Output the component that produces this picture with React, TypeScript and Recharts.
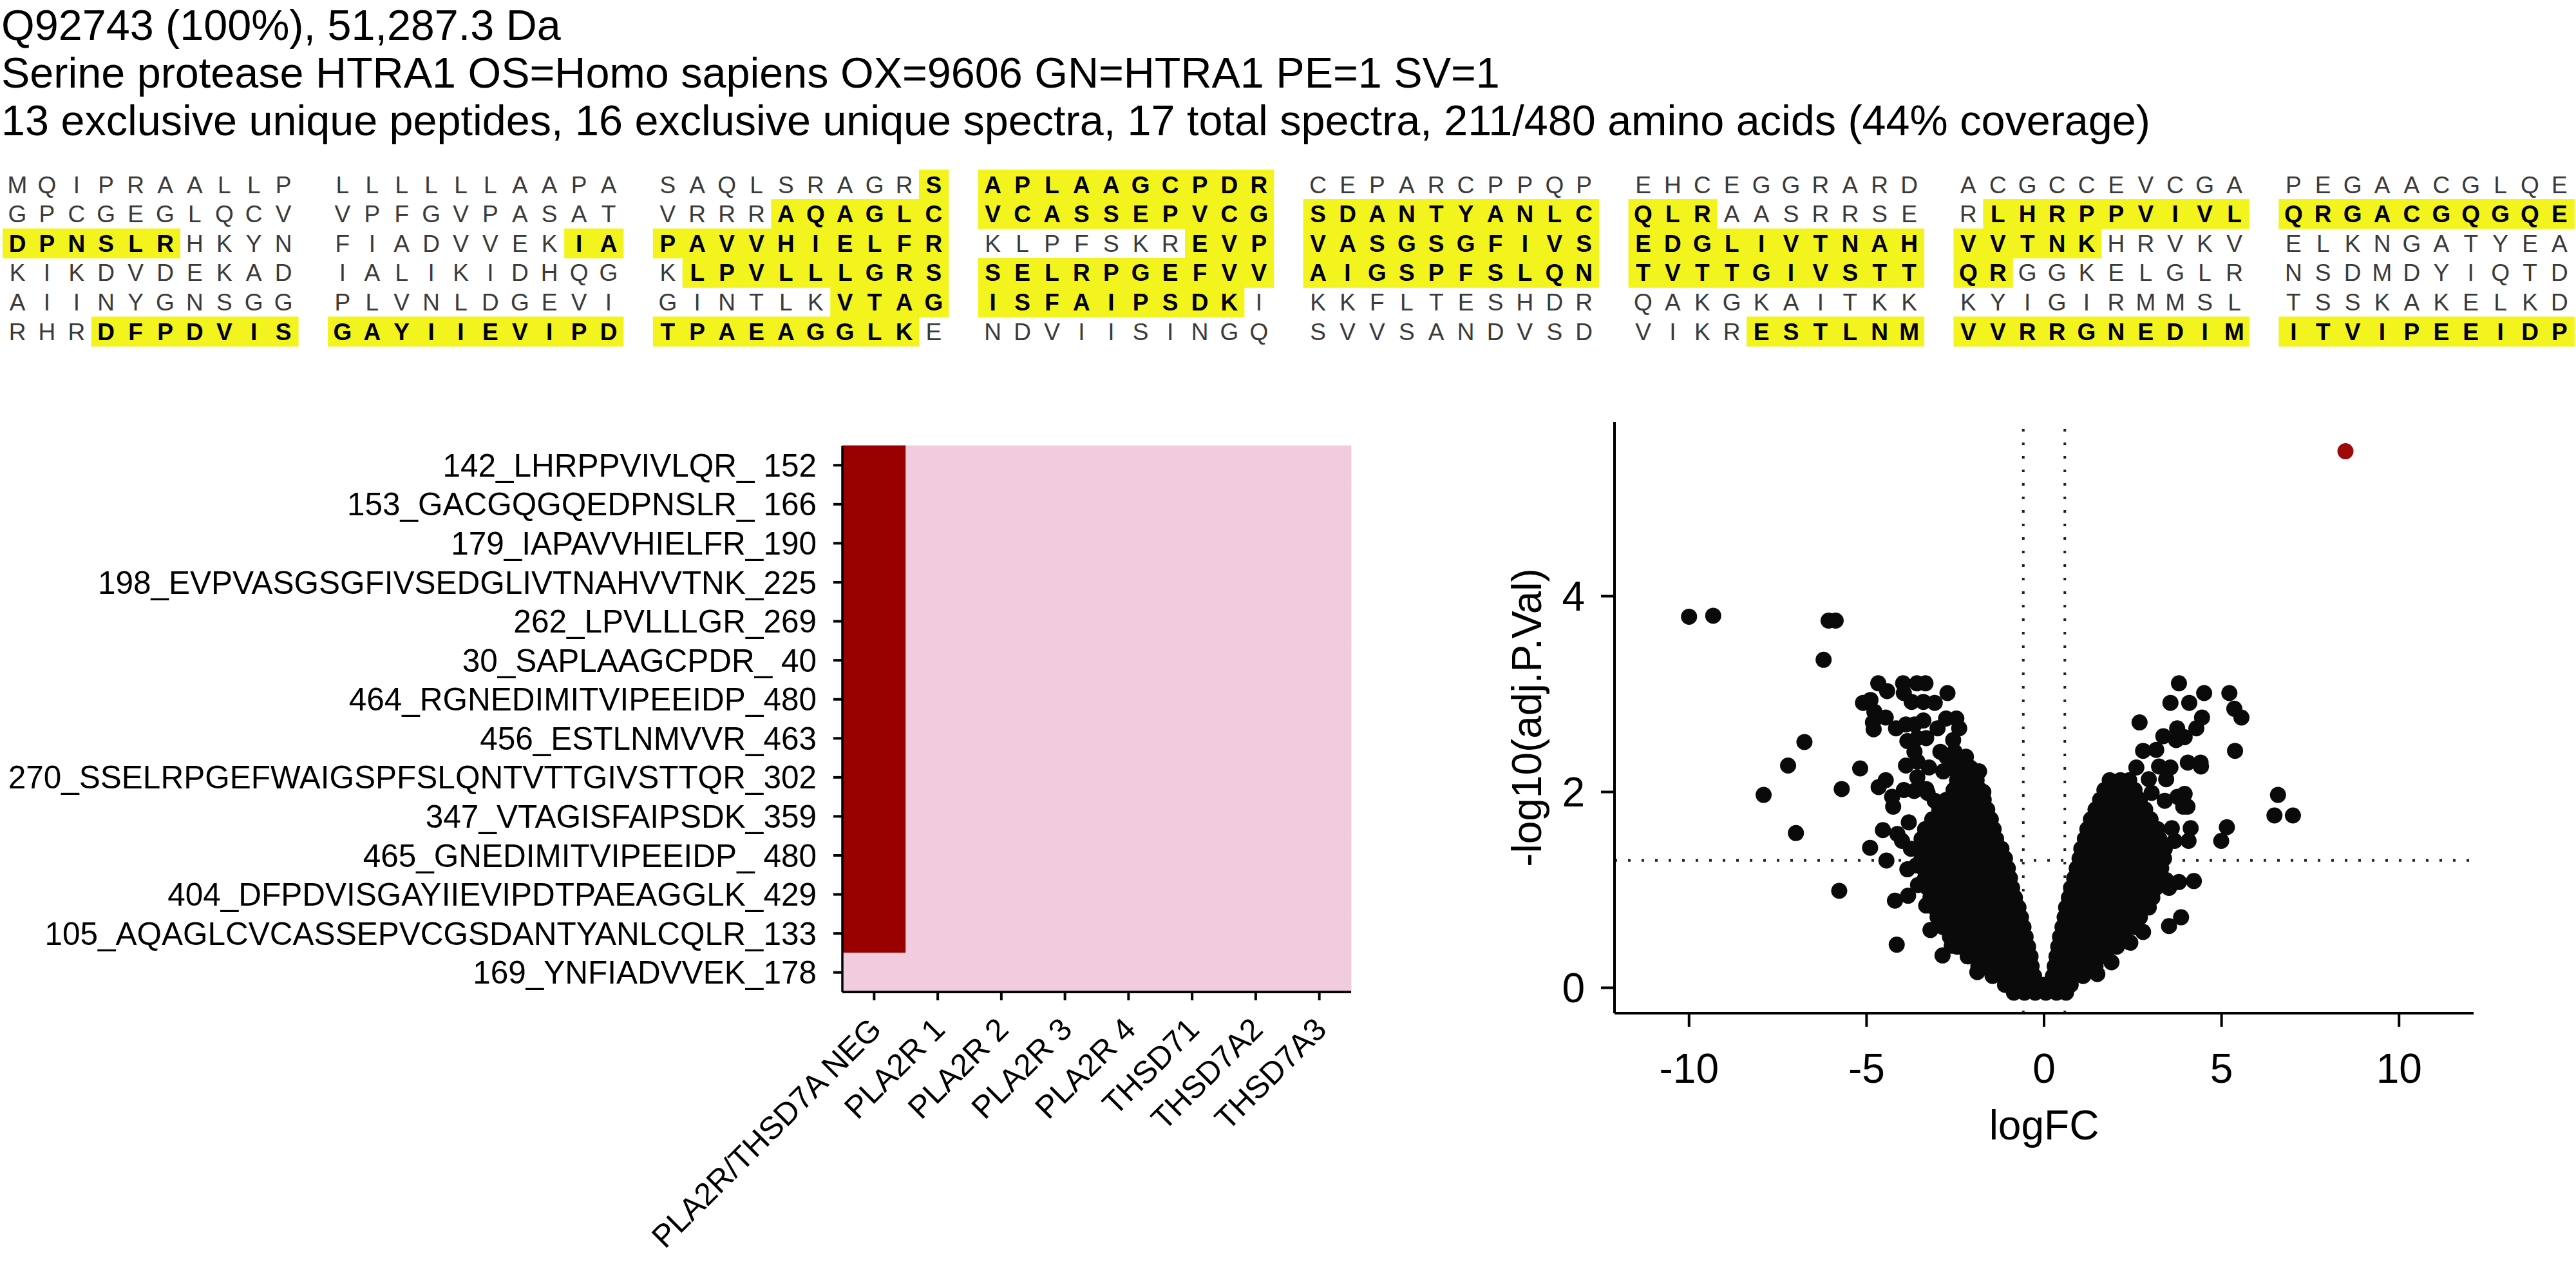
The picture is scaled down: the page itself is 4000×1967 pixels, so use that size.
// Coverage map, peptide detection heatmap and volcano plot for HTRA1 (Q92743)

import React from "react";
import {
  Bar,
  BarChart,
  Cell,
  ReferenceLine,
  Scatter,
  ScatterChart,
  XAxis,
  YAxis,
} from "recharts";

const FONT = '"Liberation Sans", Arial, Helvetica, sans-serif';
const RED = "#990000";
const PINK = "#F1CCDE";
const YELLOW = "#F3F31D";

const headerLines = [
  "Q92743 (100%), 51,287.3 Da",
  "Serine protease HTRA1 OS=Homo sapiens OX=9606 GN=HTRA1 PE=1 SV=1",
  "13 exclusive unique peptides, 16 exclusive unique spectra, 17 total spectra, 211/480 amino acids (44% coverage)",
];

const sequenceBlocks = [
  "MQIPRAALLP", "LLLLLLAAPA", "SAQLSRAGRS", "APLAAGCPDR", "CEPARCPPQP", "EHCEGGRARD", "ACGCCEVCGA", "PEGAACGLQE",
  "GPCGEGLQCV", "VPFGVPASAT", "VRRRAQAGLC", "VCASSEPVCG", "SDANTYANLC", "QLRAASRRSE", "RLHRPPVIVL", "QRGACGQGQE",
  "DPNSLRHKYN", "FIADVVEKIA", "PAVVHIELFR", "KLPFSKREVP", "VASGSGFIVS", "EDGLIVTNAH", "VVTNKHRVKV", "ELKNGATYEA",
  "KIKDVDEKAD", "IALIKIDHQG", "KLPVLLLGRS", "SELRPGEFVV", "AIGSPFSLQN", "TVTTGIVSTT", "QRGGKELGLR", "NSDMDYIQTD",
  "AIINYGNSGG", "PLVNLDGEVI", "GINTLKVTAG", "ISFAIPSDKI", "KKFLTESHDR", "QAKGKAITKK", "KYIGIRMMSL", "TSSKAKELKD",
  "RHRDFPDVIS", "GAYIIEVIPD", "TPAEAGGLKE", "NDVIISINGQ", "SVVSANDVSD", "VIKRESTLNM", "VVRRGNEDIM", "ITVIPEEIDP",
];

// covered residue ranges (1-based, inclusive)
const coveredRanges: [number, number][] = [
  [30, 40], [105, 133], [142, 166], [179, 190], [198, 225],
  [262, 302], [347, 359], [404, 429], [455, 480],
];

const peptides = [
  "142_LHRPPVIVLQR_ 152",
  "153_GACGQGQEDPNSLR_ 166",
  "179_IAPAVVHIELFR_190",
  "198_EVPVASGSGFIVSEDGLIVTNAHVVTNK_225",
  "262_LPVLLLGR_269",
  "30_SAPLAAGCPDR_ 40",
  "464_RGNEDIMITVIPEEIDP_480",
  "456_ESTLNMVVR_463",
  "270_SSELRPGEFWAIGSPFSLQNTVTTGIVSTTQR_302",
  "347_VTAGISFAIPSDK_359",
  "465_GNEDIMITVIPEEIDP_ 480",
  "404_DFPDVISGAYIIEVIPDTPAEAGGLK_429",
  "105_AQAGLCVCASSEPVCGSDANTYANLCQLR_133",
  "169_YNFIADVVEK_178",
];

const samples = [
  "PLA2R/THSD7A NEG",
  "PLA2R 1",
  "PLA2R 2",
  "PLA2R 3",
  "PLA2R 4",
  "THSD71",
  "THSD7A2",
  "THSD7A3",
];

// 1 = detected, rows follow peptides, columns follow samples
const detected = [
  [1, 0, 0, 0, 0, 0, 0, 0],
  [1, 0, 0, 0, 0, 0, 0, 0],
  [1, 0, 0, 0, 0, 0, 0, 0],
  [1, 0, 0, 0, 0, 0, 0, 0],
  [1, 0, 0, 0, 0, 0, 0, 0],
  [1, 0, 0, 0, 0, 0, 0, 0],
  [1, 0, 0, 0, 0, 0, 0, 0],
  [1, 0, 0, 0, 0, 0, 0, 0],
  [1, 0, 0, 0, 0, 0, 0, 0],
  [1, 0, 0, 0, 0, 0, 0, 0],
  [1, 0, 0, 0, 0, 0, 0, 0],
  [1, 0, 0, 0, 0, 0, 0, 0],
  [1, 0, 0, 0, 0, 0, 0, 0],
  [0, 0, 0, 0, 0, 0, 0, 0],
];

// volcano: dense body of the cloud, one row per -log10 level
const coreRows: [number, number[]][] = [
  [-0.05, [-0.85, -0.55, -0.25, 0.05, 0.35, 0.62]],
  [0.03, [-1.1, -0.8, -0.5, -0.2, 0.0, 0.15, 0.45, 0.75]],
  [0.12, [-1.45, -1.15, -0.85, -0.55, -0.28, 0.25, 0.55, 0.85, 1.1]],
  [0.22, [-1.85, -1.55, -1.25, -0.95, -0.65, -0.35, 0.3, 0.6, 0.9, 1.2, 1.45]],
  [0.32, [-2.15, -1.85, -1.55, -1.25, -0.95, -0.62, -0.38, 0.35, 0.65, 0.95, 1.25, 1.55, 1.75]],
  [0.42, [-2.45, -2.15, -1.85, -1.55, -1.25, -0.95, -0.65, -0.45, 0.4, 0.7, 1.0, 1.3, 1.6, 1.9, 2.05]],
  [0.52, [-2.65, -2.35, -2.05, -1.75, -1.45, -1.15, -0.85, -0.52, 0.45, 0.75, 1.05, 1.35, 1.65, 1.95, 2.25]],
  [0.62, [-2.85, -2.55, -2.25, -1.95, -1.65, -1.35, -1.05, -0.75, -0.58, 0.52, 0.8, 1.1, 1.4, 1.7, 2.0, 2.3, 2.55]],
  [0.72, [-3.0, -2.7, -2.4, -2.1, -1.8, -1.5, -1.2, -0.9, -0.65, 0.58, 0.88, 1.18, 1.48, 1.78, 2.08, 2.38, 2.7]],
  [0.82, [-3.1, -2.8, -2.5, -2.2, -1.9, -1.6, -1.3, -1.0, -0.72, 0.62, 0.92, 1.22, 1.52, 1.82, 2.12, 2.42, 2.72, 2.95]],
  [0.92, [-3.2, -2.9, -2.6, -2.3, -2.0, -1.7, -1.4, -1.1, -0.82, 0.7, 1.0, 1.3, 1.6, 1.9, 2.2, 2.5, 2.8, 3.05]],
  [1.02, [-3.28, -2.98, -2.68, -2.38, -2.08, -1.78, -1.48, -1.18, -0.9, 0.76, 1.06, 1.36, 1.66, 1.96, 2.26, 2.56, 2.86, 3.15]],
  [1.12, [-3.35, -3.05, -2.75, -2.45, -2.15, -1.85, -1.55, -1.25, -0.96, 0.85, 1.15, 1.45, 1.75, 2.05, 2.35, 2.65, 2.95, 3.25]],
  [1.22, [-3.4, -3.1, -2.8, -2.5, -2.2, -1.9, -1.6, -1.3, -1.02, 0.92, 1.22, 1.52, 1.82, 2.12, 2.42, 2.72, 3.02, 3.3]],
  [1.32, [-3.45, -3.15, -2.85, -2.55, -2.25, -1.95, -1.65, -1.35, -1.1, 1.0, 1.3, 1.6, 1.9, 2.2, 2.5, 2.8, 3.1, 3.38]],
  [1.42, [-3.48, -3.18, -2.88, -2.58, -2.28, -1.98, -1.68, -1.4, -1.2, 1.05, 1.35, 1.65, 1.95, 2.25, 2.55, 2.85, 3.15, 3.4]],
  [1.52, [-3.45, -3.15, -2.85, -2.55, -2.25, -1.95, -1.65, -1.35, 1.15, 1.45, 1.75, 2.05, 2.35, 2.65, 2.95, 3.25]],
  [1.62, [-3.35, -3.05, -2.75, -2.45, -2.15, -1.85, -1.55, -1.42, 1.22, 1.52, 1.82, 2.12, 2.42, 2.72, 3.0, 3.2]],
  [1.72, [-3.15, -2.85, -2.55, -2.25, -1.95, -1.65, -1.5, 1.32, 1.62, 1.92, 2.22, 2.52, 2.82, 3.0]],
  [1.82, [-2.95, -2.65, -2.35, -2.05, -1.75, -1.6, 1.45, 1.75, 2.05, 2.35, 2.65, 2.85]],
  [1.92, [-2.75, -2.45, -2.15, -1.85, -1.7, 1.58, 1.85, 2.15, 2.45, 2.7]],
  [2.02, [-2.55, -2.25, -1.95, -1.8, 1.7, 2.0, 2.3, 2.55]],
  [2.12, [-2.45, -2.15, -1.9, 1.85, 2.15, 2.4]],
  [2.24, [-2.6, -2.3, -2.05]],
  [2.36, [-2.75, -2.45, -2.2]],
];

// volcano: individually visible points [logFC, -log10(adj.P.Val)]
const scatteredPoints: [number, number][] = [
  [-10.0, 3.79], [-9.32, 3.8], [-6.07, 3.75], [-5.87, 3.75], [-6.21, 3.35],
  [-6.75, 2.51], [-7.21, 2.27], [-7.9, 1.97], [-6.99, 1.58], [-5.77, 0.99],
  [-5.7, 2.03], [-5.18, 2.24], [-4.15, 0.44], [-4.2, 0.89], [-3.83, 0.94],
  [-3.2, 0.59], [-2.86, 0.33], [-1.88, 0.16], [-4.9, 1.43], [-4.44, 1.3],
  [-4.66, 2.05], [-4.46, 2.12], [-4.25, 1.85], [-4.28, 1.95], [-3.95, 2.02],
  [-3.66, 2.01], [-3.28, 1.99], [-4.54, 1.61], [-4.13, 1.57], [-3.81, 1.69],
  [-3.85, 1.21], [-3.32, 0.84], [-2.6, 0.43], [-2.19, 0.38],
  [-4.0, 1.5], [-3.75, 1.42], [-3.6, 1.25], [-3.55, 1.05],
  [-4.67, 3.11], [-4.42, 3.03], [-3.97, 3.11], [-3.58, 3.11], [-3.34, 3.11],
  [-3.95, 3.01], [-3.73, 2.92], [-3.4, 2.92], [-3.08, 2.91], [-2.72, 3.01],
  [-5.1, 2.91], [-4.89, 2.94], [-4.78, 2.82], [-4.82, 2.71], [-4.8, 2.64],
  [-4.46, 2.76], [-4.17, 2.65], [-3.89, 2.69], [-3.65, 2.69], [-3.4, 2.73],
  [-3.85, 2.52], [-3.57, 2.55], [-3.32, 2.55], [-3.0, 2.65], [-2.76, 2.75],
  [-2.47, 2.75], [-2.39, 2.65], [-2.56, 2.53], [-3.65, 2.41], [-2.92, 2.41],
  [-2.52, 2.41], [-3.89, 2.27], [-3.57, 2.31], [-3.24, 2.25], [-2.84, 2.21],
  [-2.52, 2.25], [-2.15, 2.27], [-1.83, 2.21], [-1.71, 2.0], [-1.99, 2.11],
  [-3.57, 2.15], [-3.32, 2.03], [-3.08, 1.91],
  [3.8, 3.11], [4.51, 3.01], [5.22, 3.01], [3.56, 2.91], [4.09, 2.91],
  [5.36, 2.85], [5.56, 2.76], [4.45, 2.76], [4.29, 2.65], [2.69, 2.71],
  [3.75, 2.65], [3.96, 2.56], [3.72, 2.53], [3.36, 2.57], [3.16, 2.43],
  [2.79, 2.42], [5.38, 2.42], [2.6, 2.25], [3.24, 2.26], [3.56, 2.25],
  [4.05, 2.3], [4.41, 2.3], [4.42, 2.26], [2.95, 2.13], [3.44, 2.13],
  [1.82, 2.02], [2.39, 2.02], [3.03, 1.99], [3.96, 1.98], [3.76, 1.95],
  [3.4, 1.91], [3.92, 1.85], [4.04, 1.85], [1.66, 1.88], [6.59, 1.97],
  [6.49, 1.76], [7.01, 1.76], [5.15, 1.64], [4.99, 1.5], [4.13, 1.63],
  [4.07, 1.5], [3.68, 1.5], [3.6, 1.63], [4.22, 1.09], [3.8, 1.08],
  [3.52, 1.02], [3.52, 0.63], [3.86, 0.72], [3.44, 1.1], [2.79, 0.57],
  [2.43, 0.46], [1.9, 0.26], [1.5, 0.14],
];

const highlighted: [number, number][] = [[8.49, 5.48]];

const xTicks = [-10, -5, 0, 5, 10];
const yTicks = [0, 2, 4];
const fcCutoff = 0.585;
const pCutoff = 1.301;

// ---------- coverage block ----------

const CELL_W = 45.9;
const ROW_H = 45.6;
const FIRST_X = 27;
const FIRST_Y = 286.5;

function isCovered(pos: number) {
  return coveredRanges.some(([a, b]) => pos >= a && pos <= b);
}

function CoverageBlock() {
  const residues = sequenceBlocks.join("").split("");
  return (
    <svg width={4000} height={560} style={{ position: "absolute", left: 0, top: 0 }} fontFamily={FONT}>
      {headerLines.map((line, i) => (
        <text key={i} x={2} y={62 + i * 74} fontSize={66.5} fill="#000">
          {line}
        </text>
      ))}
      {residues.map((aa, i) => {
        const row = Math.floor(i / 80);
        const j = i % 80;
        const col = j + Math.floor(j / 10);
        const cx = FIRST_X + col * CELL_W;
        const cy = FIRST_Y + row * ROW_H;
        const hit = isCovered(i + 1);
        return (
          <g key={i}>
            {hit && <rect x={cx - CELL_W / 2} y={cy - 23} width={CELL_W + 0.5} height={46.5} fill={YELLOW} />}
            <text
              x={cx}
              y={cy + 13}
              textAnchor="middle"
              fontSize={37}
              fontWeight={hit ? 700 : 400}
              fill={hit ? "#000" : "#3a3a3a"}
            >
              {aa}
            </text>
          </g>
        );
      })}
    </svg>
  );
}

// ---------- heatmap ----------

function SampleTick(props: any) {
  const { x, y, payload } = props;
  const label = samples[Math.round(payload.value - 0.5)];
  const ax = x + 14;
  const ay = y + 46;
  return (
    <text x={ax} y={ay} transform={`rotate(-45 ${ax} ${ay})`} textAnchor="end" fontSize={49} fill="#000">
      {label}
    </text>
  );
}

function PeptideHeatmap() {
  const table = peptides.map((p) => {
    const row: Record<string, string | number> = { peptide: p };
    samples.forEach((_, j) => {
      row[`s${j}`] = 1;
    });
    return row;
  });
  return (
    <div style={{ position: "absolute", left: 0, top: 600, fontFamily: FONT }}>
      <BarChart
        width={2150}
        height={1367}
        data={table}
        layout="vertical"
        barCategoryGap={0}
        barGap={0}
        margin={{ top: 92, right: 52, bottom: 0, left: 0 }}
      >
        <XAxis
          type="number"
          domain={[0, 8]}
          ticks={samples.map((_, j) => j + 0.5)}
          interval={0}
          height={427}
          tickSize={13}
          axisLine={{ stroke: "#000", strokeWidth: 4 }}
          tickLine={{ stroke: "#000", strokeWidth: 4 }}
          tick={<SampleTick />}
        />
        <YAxis
          type="category"
          dataKey="peptide"
          width={1308}
          interval={0}
          tickSize={14}
          tickMargin={26}
          axisLine={{ stroke: "#000", strokeWidth: 3.5 }}
          tickLine={{ stroke: "#000", strokeWidth: 4 }}
          tick={{ fontSize: 49.5, fill: "#000" }}
        />
        {samples.map((s, j) => (
          <Bar key={s} dataKey={`s${j}`} stackId="cells" isAnimationActive={false}>
            {peptides.map((p, i) => {
              const c = detected[i][j] ? RED : PINK;
              return <Cell key={p} fill={c} stroke={c} strokeWidth={1} />;
            })}
          </Bar>
        ))}
      </BarChart>
    </div>
  );
}

// ---------- volcano ----------

const dot = (fill: string) => (props: any) =>
  <circle cx={props.cx} cy={props.cy} r={12.5} fill={fill} />;

function XTitle(props: any) {
  const vb = props.viewBox || { x: 207, y: 973, width: 1334, height: 287 };
  return (
    <text x={vb.x + vb.width / 2} y={vb.y + 196} textAnchor="middle" fontSize={64} fill="#000">
      logFC
    </text>
  );
}

function YTitle(props: any) {
  const vb = props.viewBox || { x: 0, y: 55, width: 207, height: 918 };
  const cx = vb.x + 71;
  const cy = vb.y + vb.height / 2;
  return (
    <text
      x={cx}
      y={cy}
      transform={`rotate(-90 ${cx} ${cy})`}
      textAnchor="middle"
      dominantBaseline="central"
      fontSize={64}
      fill="#000"
    >
      -log10(adj.P.Val)
    </text>
  );
}

function VolcanoPlot() {
  const core = coreRows.flatMap(([y, xs]) => xs.map((x) => ({ x, y })));
  const spread = scatteredPoints.map(([x, y]) => ({ x, y }));
  const hits = highlighted.map(([x, y]) => ({ x, y }));
  const axisStyle = { stroke: "#000", strokeWidth: 4 };
  const dotted = { stroke: "#222", strokeWidth: 4, strokeDasharray: "4 17" };
  return (
    <div style={{ position: "absolute", left: 2300, top: 600, fontFamily: FONT }}>
      <ScatterChart width={1600} height={1260} margin={{ top: 55, right: 59, bottom: 0, left: 0 }}>
        <XAxis
          type="number"
          dataKey="x"
          domain={[-12.1, 12.1]}
          ticks={xTicks}
          interval={0}
          height={287}
          tickSize={21}
          tickMargin={42}
          axisLine={axisStyle}
          tickLine={axisStyle}
          tick={{ fontSize: 64, fill: "#000" }}
          label={(p: any) => <XTitle {...p} />}
        />
        <YAxis
          type="number"
          dataKey="y"
          domain={[-0.26, 5.78]}
          ticks={yTicks}
          interval={0}
          width={207}
          tickSize={21}
          tickMargin={25}
          axisLine={axisStyle}
          tickLine={axisStyle}
          tick={{ fontSize: 64, fill: "#000" }}
          label={(p: any) => <YTitle {...p} />}
        />
        <ReferenceLine x={-fcCutoff} {...dotted} />
        <ReferenceLine x={fcCutoff} {...dotted} />
        <ReferenceLine y={pCutoff} {...dotted} />
        <Scatter data={core} shape={dot("#0a0a0a")} isAnimationActive={false} />
        <Scatter data={spread} shape={dot("#0a0a0a")} isAnimationActive={false} />
        <Scatter data={hits} shape={dot("#9E0A0A")} isAnimationActive={false} />
      </ScatterChart>
    </div>
  );
}

export default function App() {
  return (
    <div style={{ position: "absolute", left: 0, top: 0, width: 4000, height: 1967, background: "#fff" }}>
      <CoverageBlock />
      <PeptideHeatmap />
      <VolcanoPlot />
    </div>
  );
}
